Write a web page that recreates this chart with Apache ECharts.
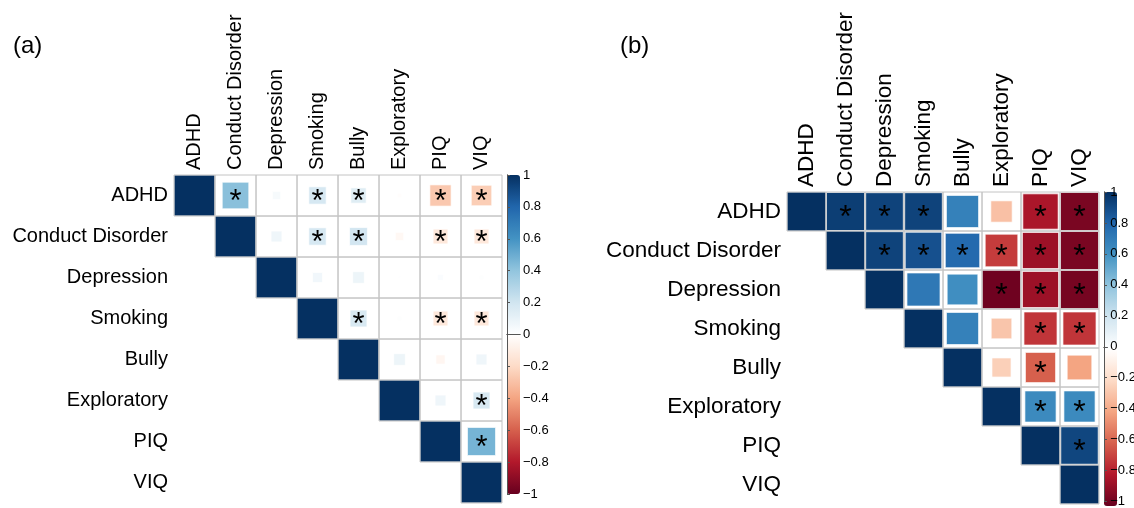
<!DOCTYPE html>
<html>
<head>
<meta charset="utf-8">
<title>Correlation matrices</title>
<script src="https://cdn.jsdelivr.net/npm/echarts@6/dist/echarts.min.js"></script>
<style>
  html, body { margin: 0; padding: 0; background: #fff; }
  #chart { width: 1134px; height: 508px; }
</style>
</head>
<body>
<div id="chart"></div>
<script>
  // variable names (rows and columns)
  var labels = ['ADHD', 'Conduct Disorder', 'Depression', 'Smoking', 'Bully', 'Exploratory', 'PIQ', 'VIQ'];

  // (a) upper triangle, row by row, starting at the diagonal
  var corrA = [
    [1, 0.42, 0.04, 0.18, 0.14, -0.01, -0.27, -0.25],
    [1, 0.07, 0.18, 0.19, -0.04, -0.13, -0.13],
    [1, 0.06, 0.08, 0.004, 0.02, 0.01],
    [1, 0.17, 0.01, -0.13, -0.13],
    [1, 0.08, -0.05, 0.07],
    [1, 0.07, 0.17],
    [1, 0.47],
    [1]
  ];
  var sigA = [
    [0, 1, 0, 1, 1, 0, 1, 1],
    [0, 0, 1, 1, 0, 1, 1],
    [0, 0, 0, 0, 0, 0],
    [0, 1, 0, 1, 1],
    [0, 0, 0, 0],
    [0, 0, 1],
    [0, 1],
    [0]
  ];

  // (b)
  var corrB = [
    [1, 0.95, 0.93, 0.93, 0.68, -0.3, -0.82, -0.95],
    [1, 0.93, 0.88, 0.78, -0.7, -0.86, -0.95],
    [1, 0.72, 0.62, -0.98, -0.86, -0.96],
    [1, 0.68, -0.28, -0.72, -0.72],
    [1, -0.24, -0.6, -0.4],
    [1, 0.64, 0.64],
    [1, 0.92],
    [1]
  ];
  var sigB = [
    [0, 1, 1, 1, 0, 0, 1, 1],
    [0, 1, 1, 1, 1, 1, 1],
    [0, 0, 0, 1, 1, 1],
    [0, 0, 0, 1, 1],
    [0, 0, 1, 0],
    [0, 1, 1],
    [0, 1],
    [0]
  ];

  // RdBu palette, -1 .. 1
  var rdbu = ['#67001F', '#B2182B', '#D6604D', '#F4A582', '#FDDBC7', '#FFFFFF',
              '#D1E5F0', '#92C5DE', '#4393C3', '#2166AC', '#053061'];

  var font = 'Liberation Sans, Arial, Helvetica, sans-serif';

  function toData(corr, sig) {
    var out = [];
    corr.forEach(function (row, i) {
      row.forEach(function (v, k) {
        out.push([i + k, i, v, sig[i][k]]);
      });
    });
    return out;
  }

  function cellRenderer(starSize) {
    return function (params, api) {
      var c = api.coord([api.value(0), api.value(1)]);
      var s = api.size([1, 1]);
      var w = s[0], h = s[1];
      var side = Math.sqrt(Math.abs(api.value(2))) * w;
      var children = [
        {
          type: 'rect',
          shape: {x: c[0] - side / 2, y: c[1] - side / 2, width: side, height: side},
          style: {fill: api.visual('color'), stroke: 'rgba(255,255,255,0.7)', lineWidth: 1}
        },
        {
          type: 'rect',
          shape: {x: c[0] - w / 2, y: c[1] - h / 2, width: w, height: h},
          style: {fill: null, stroke: '#c4c4c4', lineWidth: 1}
        }
      ];
      if (api.value(3)) {
        children.push({
          type: 'text',
          x: c[0],
          y: c[1] + starSize * 0.22,
          style: {
            text: '*', fontSize: starSize, fontFamily: font, fill: '#000',
            align: 'center', verticalAlign: 'middle'
          }
        });
      }
      return {type: 'group', children: children};
    };
  }

  function minusFmt(v) {
    var a = +Math.abs(v).toFixed(1);
    return v < -1e-9 ? '\u2212' + a : String(a);
  }

  // grids: 0 = (a) matrix, 1 = (b) matrix, 2/3 = colour bar outlines + ticks
  var panels = [
    {left: 174, top: 175, size: 328, fs: 20, star: 31, bar: {left: 507, top: 175, h: 319}},
    {left: 787, top: 192, size: 312, fs: 22.5, star: 32, bar: {left: 1104, top: 192, h: 314}}
  ];

  var grids = [], xAxes = [], yAxes = [], visualMaps = [];
  panels.forEach(function (p, i) {
    grids.push({left: p.left, top: p.top, width: p.size, height: p.size});
    xAxes.push({
      type: 'category', gridIndex: i, data: labels, position: 'top',
      axisLine: {show: false}, axisTick: {show: false}, splitLine: {show: false},
      axisLabel: {rotate: -90, interval: 0, fontSize: p.fs, color: '#000', margin: 5, fontFamily: font}
    });
    yAxes.push({
      type: 'category', gridIndex: i, data: labels, inverse: true,
      axisLine: {show: false}, axisTick: {show: false}, splitLine: {show: false},
      axisLabel: {interval: 0, fontSize: p.fs, color: '#000', margin: 6, fontFamily: font}
    });
    visualMaps.push({
      type: 'continuous', seriesIndex: i, dimension: 2, min: -1, max: 1,
      calculable: false, hoverLink: false, padding: 0,
      left: p.bar.left, top: p.bar.top, itemWidth: 13, itemHeight: p.bar.h,
      inRange: {color: rdbu}
    });
  });

  panels.forEach(function (p, i) {
    var g = grids.length;
    grids.push({left: p.bar.left, top: p.bar.top, width: 13, height: p.bar.h});
    var line = {show: true, lineStyle: {color: '#555', width: 1}};
    xAxes.push({type: 'value', gridIndex: g, position: 'bottom', min: 0, max: 1, z: 10,
      axisLine: line, axisTick: {show: false}, axisLabel: {show: false}, splitLine: {show: false}});
    xAxes.push({type: 'value', gridIndex: g, position: 'top', min: 0, max: 1, z: 10,
      axisLine: line, axisTick: {show: false}, axisLabel: {show: false}, splitLine: {show: false}});
    yAxes.push({type: 'value', gridIndex: g, position: 'left', min: -1, max: 1, z: 10,
      axisLine: line, axisTick: {show: false}, axisLabel: {show: false}, splitLine: {show: false}});
    yAxes.push({type: 'value', gridIndex: g, position: 'right', min: -1, max: 1, interval: 0.2, z: 10,
      axisLine: line, axisTick: {show: true, length: 3, lineStyle: {color: '#555'}},
      splitLine: {show: false},
      axisLabel: {fontSize: 13, color: '#000', margin: 3, fontFamily: font, formatter: minusFmt}});
  });

  var chart = echarts.init(document.getElementById('chart'));
  chart.setOption({
    animation: false,
    textStyle: {fontFamily: font},
    title: [
      {text: '(a)', left: 8, top: 29, textStyle: {fontSize: 24, fontWeight: 'normal', color: '#000', fontFamily: font}},
      {text: '(b)', left: 615, top: 29, textStyle: {fontSize: 24, fontWeight: 'normal', color: '#000', fontFamily: font}}
    ],
    grid: grids,
    xAxis: xAxes,
    yAxis: yAxes,
    visualMap: visualMaps,
    series: [
      {
        type: 'custom', name: 'a', xAxisIndex: 0, yAxisIndex: 0,
        renderItem: cellRenderer(panels[0].star), encode: {x: 0, y: 1},
        data: toData(corrA, sigA)
      },
      {
        type: 'custom', name: 'b', xAxisIndex: 1, yAxisIndex: 1,
        renderItem: cellRenderer(panels[1].star), encode: {x: 0, y: 1},
        data: toData(corrB, sigB)
      }
    ]
  });
</script>
</body>
</html>
